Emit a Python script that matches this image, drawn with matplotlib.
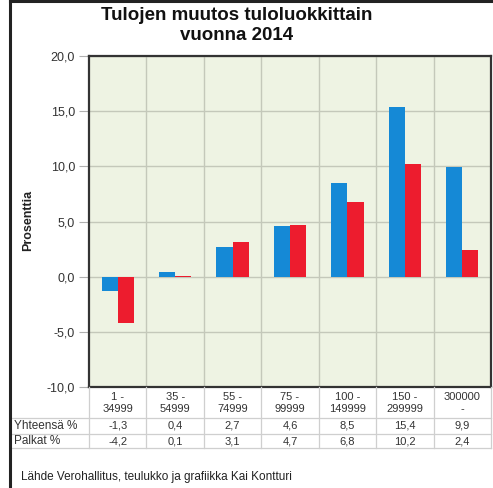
import numpy as np
import matplotlib.pyplot as plt
import matplotlib.transforms as mtransforms
from matplotlib.lines import Line2D

plt.rcParams['font.family'] = ['Liberation Sans', 'DejaVu Sans']

# Tiedot
luokat = ["1 -\n34999", "35 -\n54999", "55 -\n74999", "75 -\n99999",
          "100 -\n149999", "150 -\n299999", "300000\n-"]
yhteensa = [-1.3, 0.4, 2.7, 4.6, 8.5, 15.4, 9.9]
palkat = [-4.2, 0.1, 3.1, 4.7, 6.8, 10.2, 2.4]
yhteensa_txt = ["-1,3", "0,4", "2,7", "4,6", "8,5", "15,4", "9,9"]
palkat_txt = ["-4,2", "0,1", "3,1", "4,7", "6,8", "10,2", "2,4"]
rivit = ["Yhteensä %", "Palkat %"]

W, H = 493, 488
fig = plt.figure(figsize=(W / 100, H / 100), dpi=100)
fig.patch.set_facecolor('white')

def fy(py):
    return 1 - py / H

# Kuvaajan alue (pikseleinä)
L, R, T, B = 89, 491, 56, 387
ax = fig.add_axes([L / W, fy(B), (R - L) / W, (B - T) / H])
ax.set_facecolor('#eef3e3')

x = np.arange(len(luokat))
w = 0.28
ax.bar(x - w / 2, yhteensa, w, color='#1589d6', zorder=3)
ax.bar(x + w / 2, palkat, w, color='#ed1c2e', zorder=3)

ax.set_xlim(-0.5, len(luokat) - 0.5)
ax.set_ylim(-10, 20)
ax.set_yticks(np.arange(-10, 21, 5))
ax.set_yticklabels([f"{v:.1f}".replace('.', ',') for v in np.arange(-10, 21, 5)],
                   fontsize=9, color='#333333')
ax.tick_params(axis='y', length=7, color='#b0b0b0', pad=3)
ax.set_xticks(np.arange(len(luokat) - 1) + 0.5, minor=True)
ax.set_xticks([])
ax.tick_params(axis='x', which='minor', length=0)
ax.grid(axis='y', color='#c4c8ba', lw=1, zorder=1)
ax.grid(axis='x', which='minor', color='#c4c8ba', lw=1, zorder=1)
for s in ax.spines.values():
    s.set_color('#333333')
    s.set_linewidth(1.6)

fig.text(28 / W, fy(220), "Prosenttia", rotation=90, fontsize=9,
         fontweight='bold', ha='center', va='center', color='#222222')

# Otsikko
fig.text(237 / W, fy(15), "Tulojen muutos tuloluokkittain", fontsize=13.5,
         fontweight='bold', ha='center', va='center', color='#111111')
fig.text(237 / W, fy(36), "vuonna 2014", fontsize=13.5,
         fontweight='bold', ha='center', va='center', color='#111111')

# Taulukko
tr = mtransforms.blended_transform_factory(ax.transData, fig.transFigure)
for i, lab in enumerate(luokat):
    fig.text(x[i], fy(403.5), lab, transform=tr, ha='center', va='center',
             fontsize=8, color='#333333', linespacing=1.25)
    fig.text(x[i], fy(426), yhteensa_txt[i], transform=tr, ha='center',
             va='center', fontsize=8, color='#333333')
    fig.text(x[i], fy(441), palkat_txt[i], transform=tr, ha='center',
             va='center', fontsize=8, color='#333333')
fig.text(14 / W, fy(426), rivit[0], ha='left', va='center', fontsize=8.5,
         color='#333333')
fig.text(14 / W, fy(441), rivit[1], ha='left', va='center', fontsize=8.5,
         color='#333333')

lc = '#cfcfcf'
for py in (418, 434, 448):
    fig.add_artist(Line2D([12 / W, R / W], [fy(py), fy(py)], color=lc, lw=0.9))
for i in range(len(luokat) + 1):
    px = L + i * (R - L) / len(luokat)
    fig.add_artist(Line2D([px / W, px / W], [fy(B), fy(448)], color=lc, lw=0.9))

fig.text(21 / W, fy(477), "Lähde Verohallitus, teulukko ja grafiikka Kai Kontturi",
         ha='left', va='center', fontsize=8.5, color='#222222')

# Ulkokehys
fig.add_artist(Line2D([10 / W, 10 / W], [0, fy(0)], color='#222222', lw=2.2))
fig.add_artist(Line2D([10 / W, 1], [fy(1), fy(1)], color='#222222', lw=2.2))

fig.savefig("out.png", dpi=100)
